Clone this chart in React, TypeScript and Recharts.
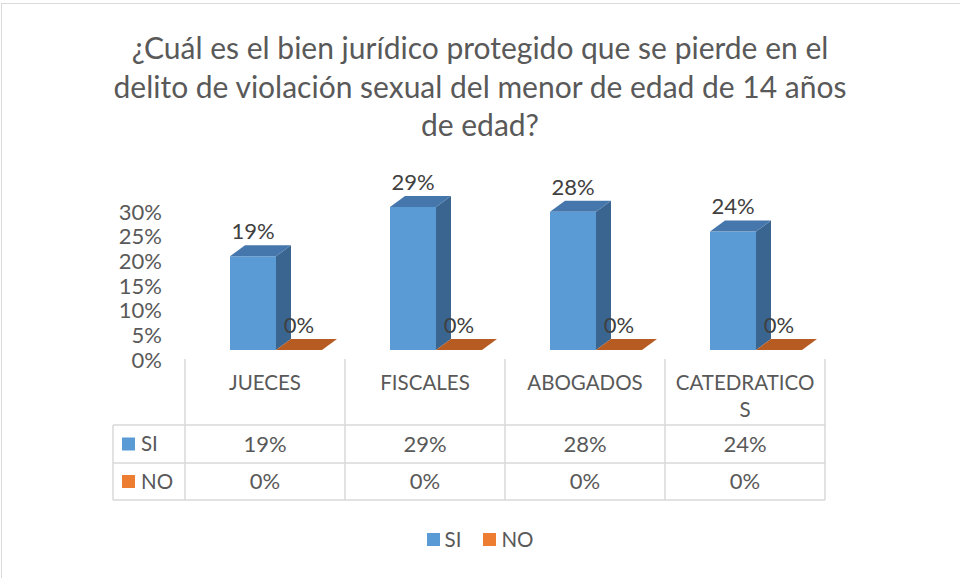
import { BarChart, Bar, XAxis, YAxis, Legend, LabelList } from 'recharts';

const categories = ['JUECES', 'FISCALES', 'ABOGADOS', 'CATEDRATICOS'];
const siValues = [0.19, 0.29, 0.28, 0.24];
const noValues = [0, 0, 0, 0];
const yTicks = [0, 0.05, 0.1, 0.15, 0.2, 0.25, 0.3];
const seriesNames = ['SI', 'NO'];
const titleLines = [
  '¿Cuál es el bien jurídico protegido que se pierde en el',
  'delito de violación sexual del menor de edad de 14 años',
  'de edad?',
];

const data = categories.map((name, i) => ({ name, SI: siValues[i], NO: noValues[i] }));

const FONT = 'Lato, "Open Sans", sans-serif';
const TEXT = '#595959';
const LABEL = '#404040';
const GRID = '#D9D9D9';

const W = 960;
const H = 578;
const PLOT_LEFT = 185;
const PLOT_RIGHT = 825;
const PLOT_BOTTOM = 350;
const PLOT_TOP = PLOT_BOTTOM - 148; // 30% is about 148px tall
const COL = (PLOT_RIGHT - PLOT_LEFT) / categories.length;

// fake 3d: bars sit a bit right of the column centre, with a depth offset
const SHIFT = 11;
const DX = 15;
const DY = 11;

// data table rows
const HEAD_TOP = 359;
const ROW1 = 425;
const ROW2 = 463;
const ROW3 = 500;
const TABLE_LEFT = 113;
const FS = 22;
const FS_CAT = 20.5;

const pct = (v: number) => `${Math.round(v * 100)}%`;

function wrapLabel(s: string): string[] {
  // the last header is too wide for its column and breaks like Excel does
  return s.length > 11 ? [s.slice(0, 11), s.slice(11)] : [s];
}

function Bar3D(props: any) {
  const { x, y, width, height, front, top, side } = props;
  const fx = x + SHIFT;
  const h = Math.max(0, height);
  return (
    <g>
      {h > 0 && <rect x={fx} y={y} width={width} height={h} fill={front} />}
      {h > 0 && (
        <polygon
          points={`${fx + width},${y} ${fx + width + DX},${y - DY} ${fx + width + DX},${y + h - DY} ${fx + width},${y + h}`}
          fill={side}
        />
      )}
      <polygon
        points={`${fx},${y} ${fx + DX},${y - DY} ${fx + width + DX},${y - DY} ${fx + width},${y}`}
        fill={top}
      />
    </g>
  );
}

function BarLabel(props: any) {
  const { x, y, width, value } = props;
  return (
    <text
      x={x + SHIFT + width / 2}
      y={y - 25}
      dy="0.35em"
      textAnchor="middle"
      fill={LABEL}
      fontSize={FS}
      fontFamily={FONT}
    >
      {pct(value)}
    </text>
  );
}

function YTick(props: any) {
  const { x, y, payload } = props;
  return (
    <text x={x} y={y + 10} dy="0.35em" textAnchor="end" fill={TEXT} fontSize={FS} fontFamily={FONT}>
      {pct(payload.value)}
    </text>
  );
}

function RowHeader({ y, color, label }: { y: number; color: string; label: string }) {
  return (
    <g>
      <rect x={122} y={y - 6.5} width={13} height={13} fill={color} />
      <text x={141} y={y} dy="0.35em" fill={TEXT} fontSize={FS_CAT} fontFamily={FONT}>
        {label}
      </text>
    </g>
  );
}

function TableTick(props: any) {
  const { x, payload } = props;
  const i = props.index ?? payload.index;
  const left = x - COL / 2;
  const right = x + COL / 2;
  const line = { stroke: GRID, strokeWidth: 1.5 };
  const txt = { textAnchor: 'middle' as const, fill: TEXT, fontSize: FS, fontFamily: FONT, dy: '0.35em' };
  return (
    <g>
      <line x1={left} y1={HEAD_TOP} x2={left} y2={ROW3} {...line} />
      {i === categories.length - 1 && <line x1={right} y1={HEAD_TOP} x2={right} y2={ROW3} {...line} />}
      {[ROW1, ROW2, ROW3].map((yy) => (
        <line key={yy} x1={left} y1={yy} x2={right} y2={yy} {...line} />
      ))}
      {wrapLabel(String(payload.value)).map((t, k) => (
        <text key={k} x={x} y={383 + k * 27} {...txt} fontSize={FS_CAT}>
          {t}
        </text>
      ))}
      <text x={x} y={(ROW1 + ROW2) / 2} {...txt}>
        {pct(siValues[i])}
      </text>
      <text x={x} y={(ROW2 + ROW3) / 2} {...txt}>
        {pct(noValues[i])}
      </text>
      {i === 0 && (
        <g>
          <line x1={TABLE_LEFT} y1={ROW1} x2={TABLE_LEFT} y2={ROW3} {...line} />
          {[ROW1, ROW2, ROW3].map((yy) => (
            <line key={yy} x1={TABLE_LEFT} y1={yy} x2={left} y2={yy} {...line} />
          ))}
          <RowHeader y={(ROW1 + ROW2) / 2} color="#5B9BD5" label="SI" />
          <RowHeader y={(ROW2 + ROW3) / 2} color="#ED7D31" label="NO" />
        </g>
      )}
    </g>
  );
}

function LegendContent(props: any) {
  const items = [...(props.payload || [])].sort(
    (a: any, b: any) => seriesNames.indexOf(a.value) - seriesNames.indexOf(b.value),
  );
  return (
    <div style={{ display: 'flex', justifyContent: 'center', fontFamily: FONT, fontSize: FS_CAT, color: TEXT }}>
      {items.map((it: any) => (
        <div key={it.value} style={{ display: 'flex', alignItems: 'center', margin: '0 11px' }}>
          <span style={{ width: 13, height: 13, background: it.color, marginRight: 5, display: 'inline-block' }} />
          <span>{it.value}</span>
        </div>
      ))}
    </div>
  );
}

export default function App() {
  return (
    <div style={{ position: 'absolute', left: 0, top: 0, width: W, height: H, overflow: 'hidden', background: '#fff' }}>
      <div
        style={{
          position: 'absolute',
          left: 1,
          top: 3,
          width: W + 40,
          height: H + 40,
          border: '1.5px solid #D9D9D9',
        }}
      />
      <div
        style={{
          position: 'absolute',
          left: 0,
          top: 28,
          width: W,
          textAlign: 'center',
          fontFamily: FONT,
          fontSize: 30,
          lineHeight: '38.5px',
          color: TEXT,
        }}
      >
        {titleLines.map((t) => (
          <div key={t}>{t}</div>
        ))}
      </div>
      <div style={{ position: 'absolute', left: 0, top: 0 }}>
        <BarChart
          width={W}
          height={H}
          data={data}
          barGap={0}
          barSize={46}
          margin={{ top: PLOT_TOP, right: W - PLOT_RIGHT, bottom: H - PLOT_BOTTOM - 30, left: PLOT_LEFT - 60 }}
        >
          <XAxis dataKey="name" axisLine={false} tickLine={false} height={30} interval={0} tick={<TableTick />} />
          <YAxis
            domain={[0, 0.3]}
            ticks={yTicks}
            width={60}
            axisLine={false}
            tickLine={false}
            tickSize={6}
            tickMargin={17}
            tick={<YTick />}
          />
          <Legend
            verticalAlign="middle"
            align="center"
            layout="horizontal"
            wrapperStyle={{ top: 527, left: 0, width: W }}
            content={<LegendContent />}
          />
          <Bar
            dataKey="SI"
            fill="#5B9BD5"
            isAnimationActive={false}
            shape={(p: any) => <Bar3D {...p} front="#5B9BD5" top="#4677AC" side="#3A6591" />}
          >
            <LabelList dataKey="SI" content={<BarLabel />} />
          </Bar>
          <Bar
            dataKey="NO"
            fill="#ED7D31"
            isAnimationActive={false}
            shape={(p: any) => <Bar3D {...p} front="#ED7D31" top="#B65B22" side="#9E4C18" />}
          >
            <LabelList dataKey="NO" content={<BarLabel />} />
          </Bar>
        </BarChart>
      </div>
    </div>
  );
}
